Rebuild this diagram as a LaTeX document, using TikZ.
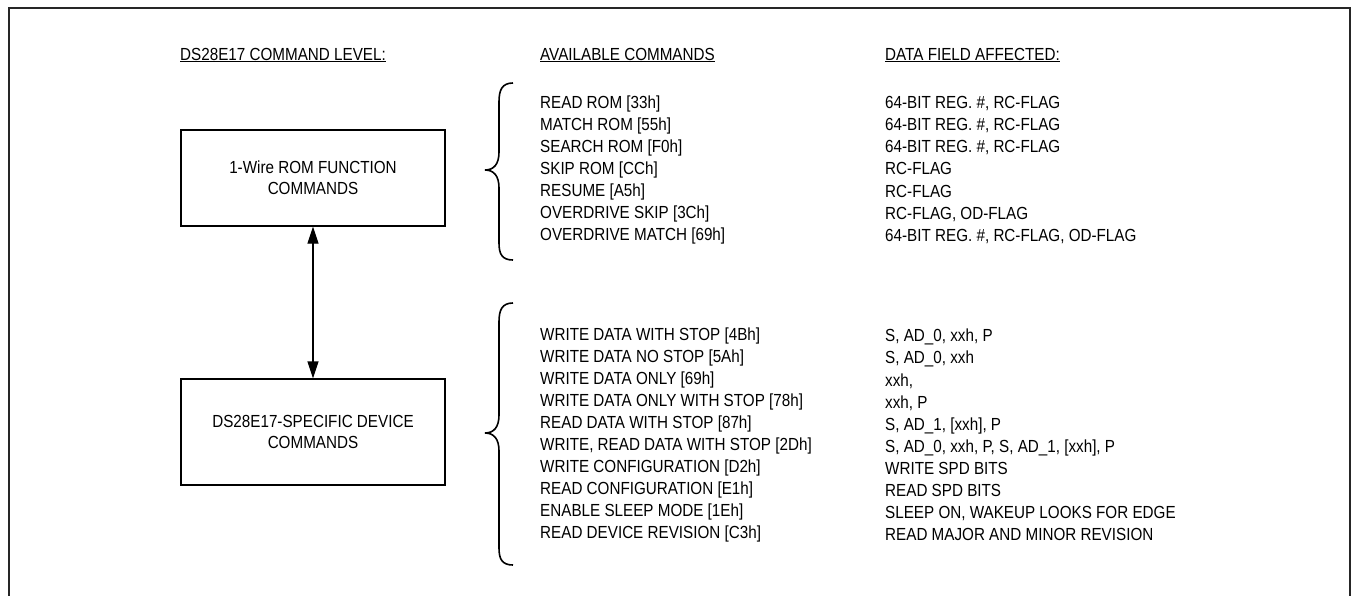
\documentclass[tikz,border=0pt]{standalone}
\usepackage{fontspec}
\setmainfont[FakeStretch=0.87]{Liberation Sans}
\usetikzlibrary{arrows.meta}
\begin{document}
\begin{tikzpicture}[x=1pt,y=-1pt,
  frame/.style={draw=black!85, line width=2.4pt},
  hdr/.style={anchor=west, inner sep=0pt, font=\fontsize{17.5}{21}\selectfont},
  cmdbox/.style={draw=black, line width=1.3pt, align=center, minimum width=264pt, inner sep=0pt, font=\fontsize{17.5}{21}\selectfont},
  cmdlist/.style={anchor=west, align=left, inner sep=0pt, font=\fontsize{17.5}{22.1}\selectfont},
  brace/.style={draw=black, line width=1.6pt},
  link/.style={line width=1.3pt, {Triangle[length=17pt,width=11pt]}-{Triangle[length=17pt,width=11pt]}}
]
\useasboundingbox (0,0) rectangle (1353,595);
\fill[white] (0,0) rectangle (1353,595);
\draw[frame] (9,610) -- (9,8) -- (1350,8) -- (1350,610);

% headers
\node[hdr] (h1) at (180,55) {\underline{DS28E17 COMMAND LEVEL:}};
\node[hdr] (h2) at (540,55) {\underline{AVAILABLE COMMANDS}};
\node[hdr] (h3) at (885,55) {\underline{DATA FIELD AFFECTED:}};

% boxes
\node[cmdbox, minimum height=96pt] (rom) at (313,178) {1-Wire ROM FUNCTION\\COMMANDS};
\node[cmdbox, minimum height=106pt] (dev) at (313,432) {DS28E17-SPECIFIC DEVICE\\COMMANDS};
\draw[link] (rom) -- (dev);

% braces
\draw[brace] (513,83) .. controls (502,83) and (499,90) .. (499,102) -- (499,152)
  .. controls (499,164) and (494,170) .. (485,170)
  .. controls (494,170) and (499,176) .. (499,188) -- (499,243)
  .. controls (499,254) and (502,260) .. (513,260);
\draw[brace] (513,303) .. controls (502,303) and (499,310) .. (499,322) -- (499,415)
  .. controls (499,427) and (494,433) .. (485,433)
  .. controls (494,433) and (499,439) .. (499,451) -- (499,548)
  .. controls (499,559) and (502,565) .. (513,565);

% lists
\node[cmdlist] (romcmd) at (540,170) {READ ROM [33h]\\MATCH ROM [55h]\\SEARCH ROM [F0h]\\SKIP ROM [CCh]\\RESUME [A5h]\\OVERDRIVE SKIP [3Ch]\\OVERDRIVE MATCH [69h]};
\node[cmdlist] (romdata) at (885,170) {64-BIT REG. \#, RC-FLAG\\64-BIT REG. \#, RC-FLAG\\64-BIT REG. \#, RC-FLAG\\RC-FLAG\\RC-FLAG\\RC-FLAG, OD-FLAG\\64-BIT REG. \#, RC-FLAG, OD-FLAG};
\node[cmdlist] (devcmd) at (540,435) {WRITE DATA WITH STOP [4Bh]\\WRITE DATA NO STOP [5Ah]\\WRITE DATA ONLY [69h]\\WRITE DATA ONLY WITH STOP [78h]\\READ DATA WITH STOP [87h]\\WRITE, READ DATA WITH STOP [2Dh]\\WRITE CONFIGURATION [D2h]\\READ CONFIGURATION [E1h]\\ENABLE SLEEP MODE [1Eh]\\READ DEVICE REVISION [C3h]};
\node[cmdlist] (devdata) at (885,435) {S, AD\_0, xxh, P\\S, AD\_0, xxh\\xxh,\\xxh, P\\S, AD\_1, [xxh], P\\S, AD\_0, xxh, P, S, AD\_1, [xxh], P\\WRITE SPD BITS\\READ SPD BITS\\SLEEP ON, WAKEUP LOOKS FOR EDGE\\READ MAJOR AND MINOR REVISION};
\end{tikzpicture}
\end{document}
